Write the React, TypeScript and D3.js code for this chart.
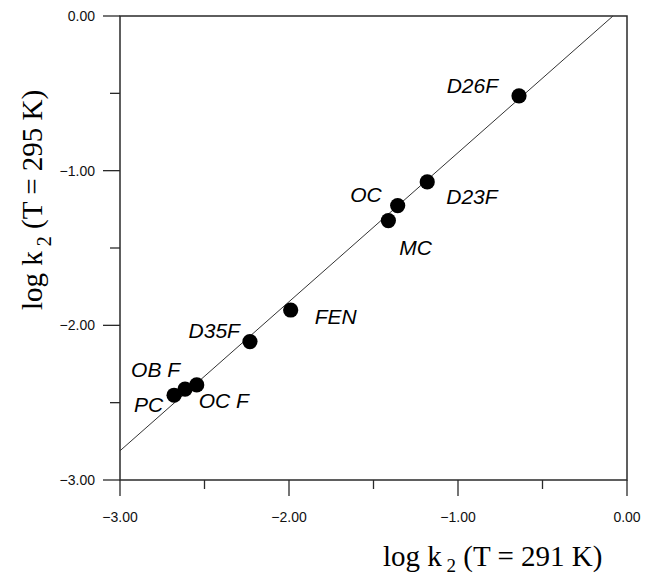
import React from "react";
import * as d3 from "d3";

const labels = ["D26F", "D23F", "OC", "MC", "FEN", "D35F", "OB F", "PC", "OC F"];
const xValues = [-0.639, -1.182, -1.357, -1.412, -1.99, -2.231, -2.615, -2.68, -2.546];
const yValues = [-0.516, -1.073, -1.226, -1.323, -1.901, -2.105, -2.413, -2.452, -2.385];

const xTicks = [-3, -2, -1, 0];
const yTicks = [0, -1, -2, -3];
const minorTicks = [-2.5, -1.5, -0.5];

const fitSlope = 0.9637;
const fitIntercept = 0.08;

// label layout (pixel offsets from point centre)
const labelLayout: { dx: number; dy: number; anchor: string }[] = [
  { dx: -21, dy: -3, anchor: "end" },
  { dx: 19, dy: 22, anchor: "start" },
  { dx: -16, dy: -4, anchor: "end" },
  { dx: 11, dy: 34, anchor: "start" },
  { dx: 24, dy: 14, anchor: "start" },
  { dx: -10, dy: -4, anchor: "end" },
  { dx: -5, dy: -12, anchor: "end" },
  { dx: -11, dy: 17, anchor: "end" },
  { dx: 2, dy: 23, anchor: "start" },
];

export default function App() {
  const W = 645;
  const H = 575;
  const left = 120, right = 627, top = 16, bottom = 480;
  const x = d3.scaleLinear().domain([-3, 0]).range([left, right]);
  const y = d3.scaleLinear().domain([-3, 0]).range([bottom, top]);
  const fmt = d3.format(".2f");

  const xStart = -3;
  const xEnd = (0 - fitIntercept) / fitSlope;
  const lineGen = d3.line<number>().x((d) => x(d)).y((d) => y(fitSlope * d + fitIntercept));

  const axisColor = "#2a2a2a";
  const sans = "'Liberation Sans', Arial, sans-serif";
  const serif = "'Liberation Serif', 'Times New Roman', serif";

  return (
    <svg width={W} height={H} style={{ position: "absolute", left: 0, top: 0, background: "#fff" }}>
      <rect x={0} y={0} width={W} height={H} fill="#fff" />
      {/* frame */}
      <rect x={left} y={top} width={right - left} height={bottom - top} fill="none" stroke={axisColor} strokeWidth={1.5} />
      {/* y ticks */}
      {yTicks.map((t) => (
        <g key={"yt" + t}>
          <line x1={left - 17} x2={left} y1={y(t)} y2={y(t)} stroke={axisColor} strokeWidth={1.3} />
          <text x={95} y={y(t)} dy="0.35em" textAnchor="end" fontFamily={sans} fontSize={14} fill="#111">
            {fmt(t)}
          </text>
        </g>
      ))}
      {minorTicks.map((t) => (
        <line key={"ym" + t} x1={left - 10} x2={left} y1={y(t)} y2={y(t)} stroke={axisColor} strokeWidth={1.3} />
      ))}
      {/* x ticks */}
      {xTicks.map((t) => (
        <g key={"xt" + t}>
          <line x1={x(t)} x2={x(t)} y1={bottom} y2={bottom + 16} stroke={axisColor} strokeWidth={1.3} />
          <text x={x(t)} y={522} textAnchor="middle" fontFamily={sans} fontSize={14} fill="#111">
            {fmt(t)}
          </text>
        </g>
      ))}
      {minorTicks.map((t) => (
        <line key={"xm" + t} x1={x(t)} x2={x(t)} y1={bottom} y2={bottom + 9} stroke={axisColor} strokeWidth={1.3} />
      ))}
      {/* fit line */}
      <path d={lineGen([xStart, xEnd]) || ""} fill="none" stroke="#333" strokeWidth={1} />
      {/* points */}
      {xValues.map((v, i) => (
        <circle key={"p" + i} cx={x(v)} cy={y(yValues[i])} r={7.6} fill="#000" />
      ))}
      {/* labels */}
      {labels.map((l, i) => (
        <text
          key={"l" + i}
          x={x(xValues[i]) + labelLayout[i].dx}
          y={y(yValues[i]) + labelLayout[i].dy}
          textAnchor={labelLayout[i].anchor as any}
          fontFamily={sans}
          fontStyle="italic"
          fontSize={21}
          fill="#000"
          style={{ whiteSpace: "pre" }}
        >
          {l}
        </text>
      ))}
      {/* x title */}
      <text x={383} y={566} fontFamily={serif} fontSize={29} fill="#000" style={{ whiteSpace: "pre" }}>
        <tspan>log k</tspan>
        <tspan fontSize={19} dy={6}> 2</tspan>
        <tspan dy={-6}> (T = 291 K)</tspan>
      </text>
      {/* y title */}
      <text
        transform={`translate(42,310) rotate(-90)`}
        fontFamily={serif}
        fontSize={29}
        fill="#000"
        style={{ whiteSpace: "pre" }}
      >
        <tspan>log k</tspan>
        <tspan fontSize={20} dy={9}> 2</tspan>
        <tspan dy={-9}> (T = 295 K)</tspan>
      </text>
    </svg>
  );
}
